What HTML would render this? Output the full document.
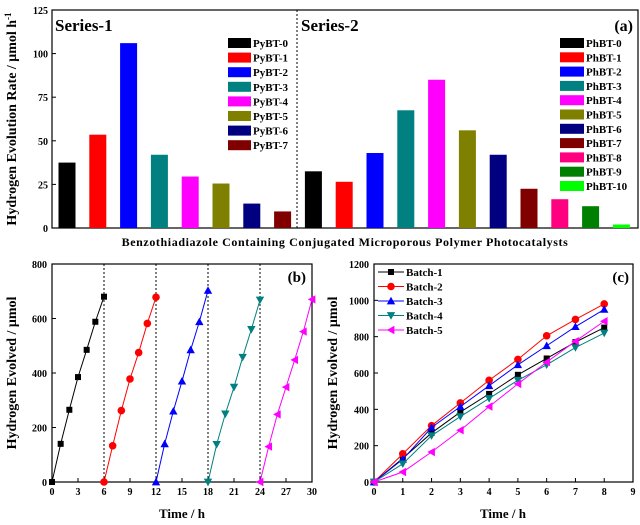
<!DOCTYPE html>
<html><head><meta charset="utf-8"><style>
body{margin:0;background:#fff}
svg{display:block;font-family:"Liberation Serif",serif;font-weight:bold}
</style></head><body>
<svg id="fig" width="640" height="525" viewBox="0 0 640 525" xmlns="http://www.w3.org/2000/svg"></svg>
<script>
// Panel (a) data
const pyNames=["PyBT-0","PyBT-1","PyBT-2","PyBT-3","PyBT-4","PyBT-5","PyBT-6","PyBT-7"];
const pyVals=[37.5,53.5,106,42,29.5,25.5,14,9.5];
const phNames=["PhBT-0","PhBT-1","PhBT-2","PhBT-3","PhBT-4","PhBT-5","PhBT-6","PhBT-7","PhBT-8","PhBT-9","PhBT-10"];
const phVals=[32.5,26.5,43,67.5,85,56,42,22.5,16.5,12.5,2];
const pyColors=["#000000","#ff0000","#0000ff","#008080","#ff00ff","#808000","#000080","#800000"];
const phColors=["#000000","#ff0000","#0000ff","#008080","#ff00ff","#808000","#000080","#800000","#ff0080","#008000","#00ff00"];
const aTicks=[0,25,50,75,100,125];
// Panel (b) data
const bTimes=[0,1,2,3,4,5,6];
const bRuns=[[0,140,265,385,485,588,680],[0,133,262,378,475,582,678],[0,140,260,370,485,588,703],[0,138,250,348,458,560,668],[0,130,248,348,448,552,670]];
const bXTicks=[0,3,6,9,12,15,18,21,24,27,30];
const bYTicks=[0,200,400,600,800];
// Panel (c) data
const cTimes=[0,1,2,3,4,5,6,7,8];
const cNames=["Batch-1","Batch-2","Batch-3","Batch-4","Batch-5"];
const cVals=[[0,130,270,385,485,590,680,770,850],[0,155,310,435,560,675,805,895,980],[0,125,300,415,530,645,750,855,950],[0,100,255,360,460,560,645,740,820],[0,55,165,285,415,540,660,775,885]];
const cXTicks=[0,1,2,3,4,5,6,7,8,9];
const cYTicks=[0,200,400,600,800,1000,1200];
const runColors=["#000000","#ff0000","#0000ff","#008080","#ff00ff"];
const markers=["square","circle","up","down","left"];

const svg=document.getElementById('fig');
const NS="http://www.w3.org/2000/svg";
function mk(tag,attrs,parent,txt){const e=document.createElementNS(NS,tag);for(const k in attrs)e.setAttribute(k,attrs[k]);if(txt!==undefined)e.textContent=txt;(parent||svg).appendChild(e);return e;}

// ===== Panel A =====
const gA=mk('g',{});


const aX0=52,aX1=638,aY0=228,aY1=10;
const ya=v=>aY0-(v/125)*(aY0-aY1);
const xa=i=>67+30.8*i;
const frA=mk('rect',{x:aX0,y:aY1,width:aX1-aX0,height:aY0-aY1,fill:'none',stroke:'#000','stroke-width':1.2},gA);


aTicks.forEach(t=>{mk('line',{x1:aX0,x2:aX0+4,y1:ya(t),y2:ya(t),stroke:'#000'},gA);
 const l=mk('text',{x:aX0-4,y:ya(t)+4,'text-anchor':'end','font-size':10},gA,String(t));
 
 });
const allVals=pyVals.concat(phVals),allCols=pyColors.concat(phColors),allNames=pyNames.concat(phNames);
allVals.forEach((v,i)=>{const r=mk('rect',{x:xa(i)-8.5,y:ya(v),width:17,height:aY0-ya(v),fill:allCols[i]},gA);
 
 });
const dv=mk('line',{x1:297,x2:297,y1:aY1,y2:aY0,stroke:'#000','stroke-dasharray':'2,2'},gA);


const s1=mk('text',{x:55,y:31,'font-size':17},gA,'Series-1');

const s2=mk('text',{x:301,y:31,'font-size':17},gA,'Series-2');

const la=mk('text',{x:633,y:31,'font-size':16,'text-anchor':'end'},gA,'(a)');

pyNames.forEach((n,i)=>{const y=43+14.6*i;
 const sw=mk('rect',{x:228,y:y-5,width:23,height:10,fill:pyColors[i]},gA);
 
 const t=mk('text',{x:253,y:y+4,'font-size':11},gA,n);
 });
phNames.forEach((n,i)=>{const y=43+14.3*i;
 const sw=mk('rect',{x:560,y:y-5,width:24,height:10,fill:phColors[i]},gA);
 
 const t=mk('text',{x:586,y:y+4,'font-size':11},gA,n);
 });
const xta=mk('text',{x:345,y:246,'font-size':12,'letter-spacing':0.6,'text-anchor':'middle'},gA,'Benzothiadiazole Containing Conjugated Microporous Polymer Photocatalysts');

const yta=mk('text',{x:0,y:0,'font-size':14,'text-anchor':'middle',transform:'translate(16,119) rotate(-90)'},gA);
yta.innerHTML='Hydrogen Evolution Rate / μmol h<tspan dy="-5" font-size="9">-1</tspan>';


// markers
function marker(g,type,x,y,c){let e;
 if(type==='square')e=mk('rect',{x:x-3,y:y-3,width:6,height:6,fill:c},g);
 else if(type==='circle')e=mk('circle',{cx:x,cy:y,r:3.8,fill:c},g);
 else{let p;const s=4.2;
  if(type==='up')p=[[x,y-s],[x-s,y+s*0.8],[x+s,y+s*0.8]];
  else if(type==='down')p=[[x,y+s],[x-s,y-s*0.8],[x+s,y-s*0.8]];
  else p=[[x-s,y],[x+s*0.8,y-s],[x+s*0.8,y+s]];
  e=mk('polygon',{points:p.map(q=>q.join(',')).join(' '),fill:c},g);}
 
 }

// ===== Panel B =====
const gB=mk('g',{});

const bX0=52,bX1=312,bY0=482,bY1=264;
const xb=t=>bX0+t/30*(bX1-bX0), yb=v=>bY0-v/800*(bY0-bY1);
const frB=mk('rect',{x:bX0,y:bY1,width:bX1-bX0,height:bY0-bY1,fill:'none',stroke:'#000','stroke-width':1.2},gB);

bXTicks.forEach(t=>{mk('line',{x1:xb(t),x2:xb(t),y1:bY0,y2:bY0-4,stroke:'#000'},gB);
 const l=mk('text',{x:xb(t),y:bY0+13,'text-anchor':'middle','font-size':10},gB,String(t));
 });
bYTicks.forEach(t=>{mk('line',{x1:bX0,x2:bX0+4,y1:yb(t),y2:yb(t),stroke:'#000'},gB);
 const l=mk('text',{x:bX0-5,y:yb(t)+4,'text-anchor':'end','font-size':10},gB,String(t));
 });
[6,12,18,24].forEach(t=>{const d=mk('line',{x1:xb(t),x2:xb(t),y1:bY1,y2:bY0,stroke:'#000','stroke-dasharray':'2,2'},gB);
 });
bRuns.forEach((run,k)=>{const off=6*k;
 const pl=mk('polyline',{points:run.map((v,i)=>xb(bTimes[i]+off)+','+yb(v)).join(' '),fill:'none',stroke:runColors[k],'stroke-width':1},gB);
 
 run.forEach((v,i)=>marker(gB,markers[k],xb(bTimes[i]+off),yb(v),runColors[k]));});
const lb=mk('text',{x:306,y:282,'font-size':15,'text-anchor':'end'},gB,'(b)');

const xtb=mk('text',{x:182,y:518,'font-size':13,'text-anchor':'middle'},gB,'Time / h');

const ytb=mk('text',{x:0,y:0,'font-size':14,'text-anchor':'middle',transform:'translate(16,373) rotate(-90)'},gB,'Hydrogen Evolved / μmol');


// ===== Panel C =====
const gC=mk('g',{});

const cX0=374,cX1=633,cY0=482,cY1=264;
const xc=t=>cX0+t/9*(cX1-cX0), yc=v=>cY0-v/1200*(cY0-cY1);
const frC=mk('rect',{x:cX0,y:cY1,width:cX1-cX0,height:cY0-cY1,fill:'none',stroke:'#000','stroke-width':1.2},gC);

cXTicks.forEach(t=>{mk('line',{x1:xc(t),x2:xc(t),y1:cY0,y2:cY0-4,stroke:'#000'},gC);
 const l=mk('text',{x:xc(t),y:cY0+13,'text-anchor':'middle','font-size':10},gC,String(t));
 });
cYTicks.forEach(t=>{mk('line',{x1:cX0,x2:cX0+4,y1:yc(t),y2:yc(t),stroke:'#000'},gC);
 const l=mk('text',{x:cX0-5,y:yc(t)+4,'text-anchor':'end','font-size':10},gC,String(t));
 });
cVals.forEach((run,k)=>{
 const pl=mk('polyline',{points:run.map((v,i)=>xc(cTimes[i])+','+yc(v)).join(' '),fill:'none',stroke:runColors[k],'stroke-width':1},gC);
 
 run.forEach((v,i)=>marker(gC,markers[k],xc(cTimes[i]),yc(v),runColors[k]));});
cNames.forEach((n,k)=>{const y=272+14.5*k;
 mk('line',{x1:378,x2:404,y1:y,y2:y,stroke:runColors[k]},gC);
 marker(gC,markers[k],391,y,runColors[k]);
 const t=mk('text',{x:406,y:y+4,'font-size':11},gC,n);
 });
const lc=mk('text',{x:629,y:282,'font-size':15,'text-anchor':'end'},gC,'(c)');

const xtc=mk('text',{x:503,y:518,'font-size':13,'text-anchor':'middle'},gC,'Time / h');

const ytc=mk('text',{x:0,y:0,'font-size':14,'text-anchor':'middle',transform:'translate(337,373) rotate(-90)'},gC,'Hydrogen Evolved / μmol');

</script>
</body></html>
